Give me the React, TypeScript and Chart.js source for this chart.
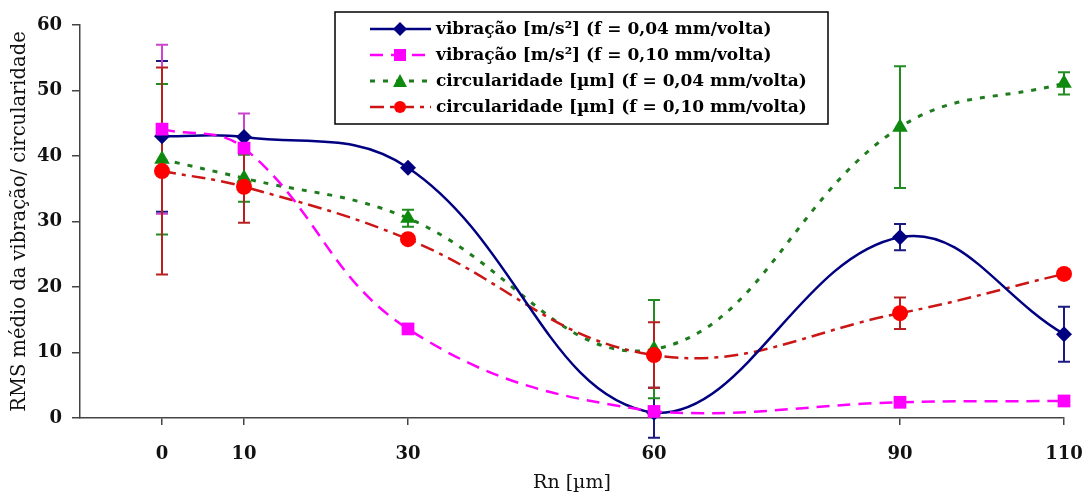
import React, { useEffect, useRef } from "react";
import { Chart, registerables } from "chart.js";

Chart.register(...registerables);

const rn = [0, 10, 30, 60, 90, 110];
const xTickValues = [0, 10, 30, 60, 90, 110];
const yMin = 0;
const yMax = 60;
const yStep = 10;

const vib004 = [43.0, 42.9, 38.2, 0.8, 27.6, 12.8];
const vib004Err = [11.5, 0, 0, 3.8, 2.0, 4.2];
const vib010 = [44.1, 41.2, 13.6, 1.0, 2.4, 2.6];
const vib010Err = [12.9, 5.3, 0, 0, 0, 0];
const circ004 = [39.5, 36.6, 30.5, 10.5, 44.4, 51.1];
const circ004Err = [11.5, 3.6, 1.3, 7.5, 9.3, 1.7];
const circ010 = [37.7, 35.3, 27.3, 9.6, 16.0, 22.0];
const circ010Err = [15.8, 5.5, 0, 5.0, 2.4, 0];

const labels = [
  "vibração [m/s²] (f = 0,04 mm/volta)",
  "vibração [m/s²] (f = 0,10 mm/volta)",
  "circularidade [µm] (f = 0,04 mm/volta)",
  "circularidade [µm] (f = 0,10 mm/volta)",
];

const SERIF = "'DejaVu Serif', 'Liberation Serif', serif";

type Style = {
  line: string;
  point: string;
  err: string;
  dash: number[];
  width: number;
  pointStyle: string;
  radius: number;
};

const styles: Style[] = [
  { line: "#000080", point: "#000080", err: "#1a1a80", dash: [], width: 2.5, pointStyle: "rectRot", radius: 8 },
  { line: "#FF00FF", point: "#FF00FF", err: "#CC44CC", dash: [13, 8], width: 2.5, pointStyle: "rect", radius: 9 },
  { line: "#1E7B1E", point: "#0F8A0F", err: "#228B22", dash: [5, 8], width: 3, pointStyle: "triangle", radius: 9 },
  { line: "#CC1515", point: "#FF0000", err: "#B82020", dash: [14, 6, 4, 6], width: 2.5, pointStyle: "circle", radius: 8 },
];

const errs = [vib004Err, vib010Err, circ004Err, circ010Err];

const errorBarPlugin = {
  id: "errorBars",
  beforeDatasetsDraw(chart: any) {
    const ctx = chart.ctx;
    const xs = chart.scales.x;
    const ys = chart.scales.y;
    ctx.save();
    chart.data.datasets.forEach((ds: any, i: number) => {
      const e = errs[i];
      ds.data.forEach((pt: any, j: number) => {
        if (!e[j]) return;
        const x = xs.getPixelForValue(pt.x);
        const y1 = ys.getPixelForValue(pt.y + e[j]);
        const y2 = ys.getPixelForValue(pt.y - e[j]);
        ctx.strokeStyle = styles[i].err;
        ctx.lineWidth = 2;
        ctx.setLineDash([]);
        ctx.beginPath();
        ctx.moveTo(x, y1);
        ctx.lineTo(x, y2);
        ctx.moveTo(x - 6, y1);
        ctx.lineTo(x + 6, y1);
        ctx.moveTo(x - 6, y2);
        ctx.lineTo(x + 6, y2);
        ctx.stroke();
      });
    });
    ctx.restore();
  },
};

const legendPlugin = {
  id: "boxLegend",
  afterDraw(chart: any) {
    const ctx = chart.ctx;
    const bx = 335;
    const by = 12;
    const bw = 493;
    const bh = 112;
    ctx.save();
    ctx.fillStyle = "#ffffff";
    ctx.fillRect(bx, by, bw, bh);
    ctx.strokeStyle = "#000000";
    ctx.lineWidth = 1.5;
    ctx.setLineDash([]);
    ctx.strokeRect(bx, by, bw, bh);
    const rows = [29, 55, 81, 107];
    labels.forEach((lab, i) => {
      const s = styles[i];
      const cy = rows[i];
      ctx.strokeStyle = s.line;
      ctx.lineWidth = s.width;
      ctx.setLineDash(s.dash);
      ctx.beginPath();
      ctx.moveTo(370, cy);
      ctx.lineTo(431, cy);
      ctx.stroke();
      ctx.setLineDash([]);
      ctx.fillStyle = s.point;
      const r = 7;
      ctx.beginPath();
      if (s.pointStyle === "rectRot") {
        ctx.moveTo(400, cy - r);
        ctx.lineTo(400 + r, cy);
        ctx.lineTo(400, cy + r);
        ctx.lineTo(400 - r, cy);
        ctx.closePath();
      } else if (s.pointStyle === "rect") {
        ctx.rect(400 - 6, cy - 6, 12, 12);
      } else if (s.pointStyle === "triangle") {
        ctx.moveTo(400, cy - 7);
        ctx.lineTo(407, cy + 6);
        ctx.lineTo(393, cy + 6);
        ctx.closePath();
      } else {
        ctx.arc(400, cy, 6, 0, Math.PI * 2);
      }
      ctx.fill();
      ctx.fillStyle = "#000000";
      ctx.font = `bold 17px ${SERIF}`;
      ctx.textBaseline = "middle";
      ctx.textAlign = "left";
      ctx.fillText(lab, 436, cy + 1);
    });
    ctx.restore();
  },
};

export default function App() {
  const ref = useRef<HTMLCanvasElement | null>(null);
  useEffect(() => {
    if (!ref.current) return;
    const series = [vib004, vib010, circ004, circ010];
    const orders = [1, 0, 3, 2];
    const chart = new Chart(ref.current, {
      type: "line",
      data: {
        datasets: series.map((vals, i) => ({
          label: labels[i],
          data: rn.map((x, j) => ({ x, y: vals[j] })),
          borderColor: styles[i].line,
          backgroundColor: styles[i].point,
          borderWidth: styles[i].width,
          borderDash: styles[i].dash,
          pointStyle: styles[i].pointStyle as any,
          pointRadius: styles[i].radius,
          pointBorderWidth: 0,
          pointBackgroundColor: styles[i].point,
          pointBorderColor: styles[i].point,
          tension: 0.4,
          fill: false,
          clip: false as any,
          order: orders[i],
        })),
      },
      options: {
        animation: false,
        responsive: false,
        maintainAspectRatio: false,
        layout: { padding: { top: 25, right: 21, left: 0, bottom: 0 } },
        plugins: {
          legend: { display: false },
          tooltip: { enabled: false },
        },
        scales: {
          x: {
            type: "linear",
            min: -10,
            max: 110,
            afterBuildTicks: (scale: any) => {
              scale.ticks = xTickValues.map((v) => ({ value: v }));
            },
            afterFit: (scale: any) => {
              scale.height = 75;
              scale.paddingLeft = 0;
              scale.paddingRight = 0;
            },
            grid: { display: true, drawOnChartArea: false, drawTicks: true, tickLength: 7, color: "#444", lineWidth: 1.5 },
            border: { display: true, color: "#444", width: 1.5 },
            ticks: {
              autoSkip: false,
              maxRotation: 0,
              padding: 19,
              color: "#111",
              font: { family: SERIF, size: 18, weight: "bold" },
            },
            title: {
              display: true,
              text: "Rn [µm]",
              color: "#111",
              font: { family: SERIF, size: 19, lineHeight: 1 },
              padding: { top: 0, bottom: 0 },
            },
          },
          y: {
            type: "linear",
            min: yMin,
            max: yMax,
            afterFit: (scale: any) => {
              scale.width = 80;
              scale.paddingTop = 0;
              scale.paddingBottom = 0;
            },
            grid: { display: true, drawOnChartArea: false, drawTicks: true, tickLength: 8, color: "#444", lineWidth: 1.5 },
            border: { display: true, color: "#444", width: 1.5 },
            ticks: {
              stepSize: yStep,
              padding: 10,
              color: "#111",
              font: { family: SERIF, size: 18, weight: "bold" },
            },
            title: {
              display: true,
              text: "RMS médio da vibração/ circularidade",
              color: "#111",
              font: { family: SERIF, size: 19.5, lineHeight: 1 },
              padding: { top: 10, bottom: 0 },
            },
          },
        },
      },
      plugins: [errorBarPlugin, legendPlugin],
    } as any);
    return () => chart.destroy();
  }, []);
  return (
    <div style={{ position: "absolute", left: 0, top: 0, width: 1085, height: 493, background: "#fff" }}>
      <canvas ref={ref} width={1085} height={493} style={{ width: 1085, height: 493, display: "block" }} />
    </div>
  );
}
